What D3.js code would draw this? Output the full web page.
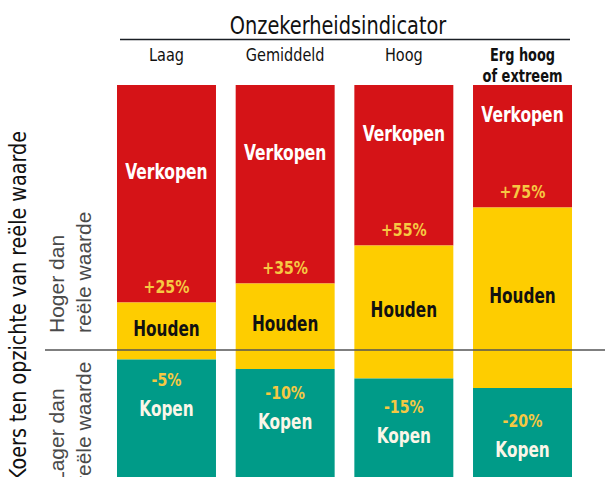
<!DOCTYPE html>
<html lang="nl">
    <head>
        <meta charset="utf-8" />
        <title>Onzekerheidsindicator</title>
        <script src="https://d3js.org/d3.v7.min.js"></script>
        <style>
            html, body { margin:0; padding:0; overflow:hidden; background-color: #fff }
            svg { display:block }
            .narrow { font-family: 'Liberation Sans Narrow', 'DejaVu Sans Condensed', 'Arial Narrow', sans-serif }
            .plain { font-family: 'Liberation Sans', Arial, sans-serif }
        </style>
    </head>
    <body>
        <svg id="svg" width="605" height="477"></svg>
        <script>

            // onzekerheid-categorieen en drempels (in % t.o.v. reële waarde)
            let categories = ["Laag", "Gemiddeld", "Hoog", "Erg hoog of extreem"];
            let sellAbove = [25, 35, 55, 75];
            let buyBelow = [-5, -10, -15, -20];
            let sellLabels = ["+25%", "+35%", "+55%", "+75%"];
            let buyLabels = ["-5%", "-10%", "-15%", "-20%"];

            let width = 605, height = 477;
            let svg = d3.select("#svg");

            let red = "#d51317", yellow = "#fecd00", teal = "#009b88";
            let pctColor = "#f6c843";

            let x = d3.scaleBand()
                .domain(categories)
                .range([117, 572])
                .paddingInner(0.166);

            // 0% ligt op de horizontale lijn
            let y = d3.scaleLinear()
                .domain([-70, 139.5])
                .range([483, 85]);

            let bars = categories.map((c, i) => ({
                cat: c, i: i, sell: sellAbove[i], buy: buyBelow[i]
            }));

            // smaller maken zodat het op een condensed letter lijkt
            function squeeze(sel, k) {
                sel.each(function() {
                    let w = this.getComputedTextLength();
                    d3.select(this)
                        .attr("textLength", w * k)
                        .attr("lengthAdjust", "spacingAndGlyphs");
                });
            }

            let g = svg.append("g");

            // verkopen
            g.selectAll(".sell").data(bars).join("rect")
                .attr("x", d => x(d.cat))
                .attr("width", x.bandwidth())
                .attr("y", y(139.5))
                .attr("height", d => y(d.sell) - y(139.5))
                .attr("fill", red);

            // houden
            g.selectAll(".hold").data(bars).join("rect")
                .attr("x", d => x(d.cat))
                .attr("width", x.bandwidth())
                .attr("y", d => y(d.sell))
                .attr("height", d => y(d.buy) - y(d.sell))
                .attr("fill", yellow);

            // kopen
            g.selectAll(".buy").data(bars).join("rect")
                .attr("x", d => x(d.cat))
                .attr("width", x.bandwidth())
                .attr("y", d => y(d.buy))
                .attr("height", d => y(-70) - y(d.buy))
                .attr("fill", teal);

            let cx = d => x(d.cat) + x.bandwidth() / 2;

            let labels = svg.append("g")
                .attr("class", "narrow")
                .attr("text-anchor", "middle")
                .attr("font-weight", "bold");

            labels.selectAll(".verk").data(bars).join("text")
                .attr("x", cx)
                .attr("y", d => y(90 + 10 * d.i))
                .attr("font-size", 21)
                .attr("fill", "#fff")
                .text("Verkopen")
                .call(squeeze, 0.82);

            labels.selectAll(".sp").data(bars).join("text")
                .attr("x", cx)
                .attr("y", d => y(d.sell) - 10)
                .attr("font-size", 17.5)
                .attr("fill", pctColor)
                .text(d => sellLabels[d.i])
                .call(squeeze, 0.9);

            labels.selectAll(".houd").data(bars).join("text")
                .attr("x", cx)
                .attr("y", d => (y(d.sell) + y(d.buy)) / 2 + 5)
                .attr("font-size", 21)
                .attr("fill", "#111")
                .text("Houden")
                .call(squeeze, 0.81);

            labels.selectAll(".bp").data(bars).join("text")
                .attr("x", cx)
                .attr("y", d => y(d.buy * 1.45 - 11.5))
                .attr("font-size", 17.5)
                .attr("fill", pctColor)
                .text(d => buyLabels[d.i])
                .call(squeeze, 0.9);

            labels.selectAll(".koop").data(bars).join("text")
                .attr("x", cx)
                .attr("y", d => y(d.buy * 1.45 - 11.5) + 30)
                .attr("font-size", 21)
                .attr("fill", "#fbf6e8")
                .text("Kopen")
                .call(squeeze, 0.81);

            // kop
            let head = svg.append("g").attr("class", "narrow").attr("text-anchor", "middle");
            head.append("text")
                .attr("x", 338).attr("y", 34)
                .attr("font-size", 25)
                .attr("fill", "#111")
                .text("Onzekerheidsindicator")
                .call(squeeze, 0.86);
            head.append("line")
                .attr("x1", 120).attr("x2", 570)
                .attr("y1", 39.5).attr("y2", 39.5)
                .attr("stroke", "#1a1e24").attr("stroke-width", 1.3);

            categories.slice(0, 3).forEach(c => {
                head.append("text")
                    .attr("x", x(c) + x.bandwidth() / 2).attr("y", 60.5)
                    .attr("font-size", 17.5).attr("fill", "#111")
                    .text(c)
                    .call(squeeze, 0.92);
            });
            let last = categories[3];
            let erg = head.append("text")
                .attr("x", x(last) + x.bandwidth() / 2)
                .attr("font-size", 17).attr("font-weight", "bold").attr("fill", "#111");
            erg.append("tspan").attr("x", x(last) + x.bandwidth() / 2).attr("y", 61)
                .text("Erg hoog").attr("textLength", 65).attr("lengthAdjust", "spacingAndGlyphs");
            erg.append("tspan").attr("x", x(last) + x.bandwidth() / 2).attr("y", 81.5)
                .text("of extreem").attr("textLength", 80).attr("lengthAdjust", "spacingAndGlyphs");

            // nul-lijn
            svg.append("line")
                .attr("x1", 45).attr("x2", width)
                .attr("y1", y(0)).attr("y2", y(0))
                .attr("stroke", "#555").attr("stroke-width", 1.5);

            // linker as-teksten
            svg.append("text")
                .attr("class", "narrow")
                .attr("transform", "translate(26,306) rotate(-90)")
                .attr("text-anchor", "middle")
                .attr("font-size", 23)
                .attr("fill", "#111")
                .text("Koers ten opzichte van reële waarde")
                .attr("textLength", 350).attr("lengthAdjust", "spacingAndGlyphs");

            function sideLabel(bottom, lines) {
                let t = svg.append("text")
                    .attr("class", "plain")
                    .attr("transform", "translate(0," + bottom + ") rotate(-90)")
                    .attr("text-anchor", "start")
                    .attr("font-size", 21)
                    .attr("fill", "#4a4a4a");
                lines.forEach((l, k) => {
                    t.append("tspan").attr("x", 0).attr("y", 64 + k * 27).text(l);
                });
            }
            sideLabel(333, ["Hoger dan", "reële waarde"]);
            sideLabel(483, ["Lager dan", "reële waarde"]);

        </script>
    </body>
</html>
